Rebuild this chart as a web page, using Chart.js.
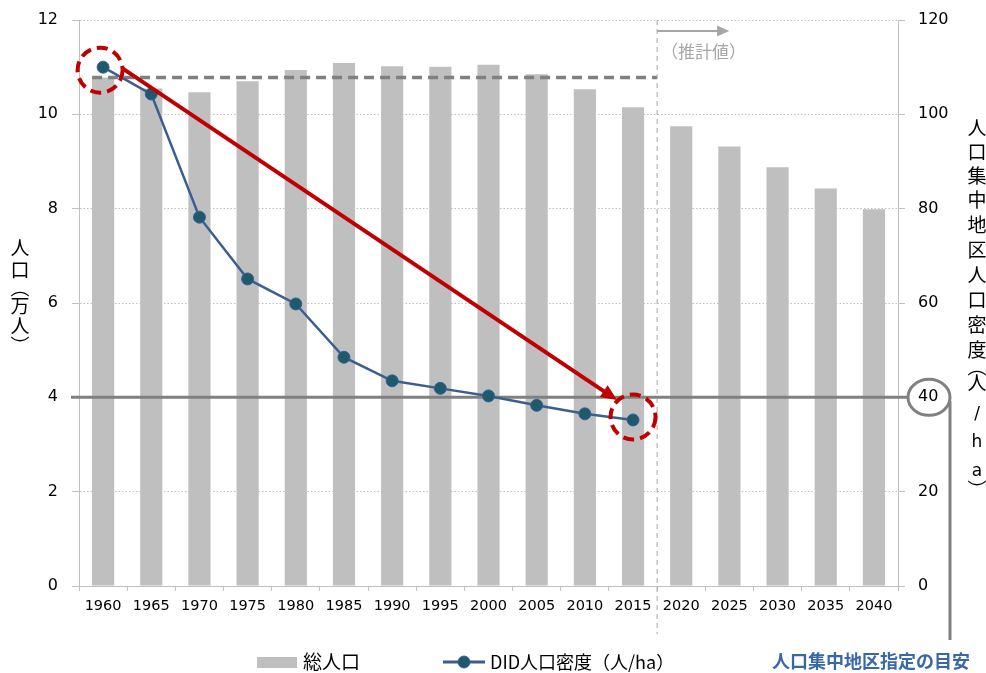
<!DOCTYPE html>
<html>
<head>
<meta charset="utf-8">
<script src="https://cdn.jsdelivr.net/npm/chart.js@4/dist/chart.umd.min.js"></script>
<style>
  html, body { margin: 0; padding: 0; background: #fff; }
  #wrap { width: 986px; height: 673px; }
</style>
</head>
<body>
<div id="wrap"><canvas id="didChart"></canvas></div>
<script>
const years = ['1960', '1965', '1970', '1975', '1980', '1985', '1990', '1995', '2000',
  '2005', '2010', '2015', '2020', '2025', '2030', '2035', '2040'];
// 総人口（万人）
const totalPop = [10.78, 10.55, 10.47, 10.70, 10.94, 11.09, 11.02, 11.01, 11.05,
  10.85, 10.53, 10.15, 9.75, 9.32, 8.88, 8.43, 7.99];
// DID人口密度（人/ha）、2020年以降はなし
const didDensity = [110.0, 104.3, 78.2, 65.1, 59.8, 48.5, 43.5, 41.9, 40.3,
  38.3, 36.5, 35.2, null, null, null, null, null];
const leftTicks = [0, 2, 4, 6, 8, 10, 12];
const rightTicks = [0, 20, 40, 60, 80, 100, 120];
const didGuide = 40;      // 人口集中地区指定の目安
const lastActual = 11;    // 2015 = 実績の最後

const JP = '"Noto Sans CJK JP", "Noto Sans", sans-serif';
const NUM = '"DejaVu Sans", Verdana, sans-serif';
const RED = '#c00000';

function arrowHead(ctx, x1, y1, x2, y2, len, wid) {
  const a = Math.atan2(y2 - y1, x2 - x1);
  ctx.save();
  ctx.translate(x2, y2);
  ctx.rotate(a);
  ctx.beginPath();
  ctx.moveTo(0, 0);
  ctx.lineTo(-len, -wid / 2);
  ctx.lineTo(-len, wid / 2);
  ctx.closePath();
  ctx.fill();
  ctx.restore();
}

function vText(ctx, chars, x, ys) {
  chars.forEach((c, i) => ctx.fillText(c, x, ys[i]));
}

const overlay = {
  id: 'overlay',
  afterDatasetDraw(chart, args) {
    if (args.index !== 0) return;
    const { ctx, scales: { x, y, y1 } } = chart;
    const gy = y1.getPixelForValue(didGuide);
    const xSplit = (x.getPixelForValue(lastActual) + x.getPixelForValue(lastActual + 1)) / 2;
    ctx.save();
    // 40人/ha の線
    ctx.strokeStyle = '#808080';
    ctx.lineWidth = 3;
    ctx.beginPath();
    ctx.moveTo(chart.chartArea.left - 8, gy);
    ctx.lineTo(908, gy);
    ctx.stroke();
    // 1960 総人口の水準（破線）
    const hy = y.getPixelForValue(totalPop[0]);
    ctx.setLineDash([10, 6]);
    ctx.lineWidth = 3.5;
    ctx.beginPath();
    ctx.moveTo(x.getPixelForValue(0) - 11, hy);
    ctx.lineTo(xSplit, hy);
    ctx.stroke();
    // 推計値の区切り
    ctx.setLineDash([5, 4]);
    ctx.lineWidth = 1;
    ctx.strokeStyle = '#a6a6a6';
    ctx.beginPath();
    ctx.moveTo(xSplit, chart.chartArea.top);
    ctx.lineTo(xSplit, 634);
    ctx.stroke();
    ctx.restore();
  },
  afterDraw(chart) {
    const { ctx, scales: { x, y1 } } = chart;
    const xSplit = (x.getPixelForValue(lastActual) + x.getPixelForValue(lastActual + 1)) / 2;
    const gy = y1.getPixelForValue(didGuide);
    ctx.save();

    // 推計値の矢印
    ctx.strokeStyle = '#a6a6a6';
    ctx.fillStyle = '#a6a6a6';
    ctx.lineWidth = 2;
    ctx.beginPath();
    ctx.moveTo(xSplit, 31);
    ctx.lineTo(xSplit + 62, 31);
    ctx.stroke();
    arrowHead(ctx, xSplit, 31, xSplit + 72, 31, 12, 11);
    ctx.font = '17px ' + JP;
    ctx.textAlign = 'left';
    ctx.textBaseline = 'middle';
    ctx.fillText('（推計値）', xSplit + 4, 52);

    // 40 の丸と縦線
    ctx.strokeStyle = '#808080';
    ctx.lineWidth = 3;
    ctx.beginPath();
    ctx.ellipse(929, gy, 21, 18, 0, 0, Math.PI * 2);
    ctx.stroke();
    ctx.beginPath();
    ctx.moveTo(950, gy + 4);
    ctx.lineTo(950, 640);
    ctx.stroke();

    // 赤い矢印と丸
    const p0 = chart.getDatasetMeta(1).data[0];
    const p1 = chart.getDatasetMeta(1).data[lastActual];
    const sx = p0.x + 19, sy = p0.y + 1;
    const ex = p1.x - 16, ey = p1.y - 20;
    ctx.strokeStyle = RED;
    ctx.fillStyle = RED;
    ctx.lineWidth = 4;
    const ang = Math.atan2(ey - sy, ex - sx);
    ctx.beginPath();
    ctx.moveTo(sx, sy);
    ctx.lineTo(ex - Math.cos(ang) * 12, ey - Math.sin(ang) * 12);
    ctx.stroke();
    arrowHead(ctx, sx, sy, ex, ey, 16, 14);
    ctx.setLineDash([11, 6]);
    ctx.lineWidth = 4;
    [[p0.x - 3, p0.y + 3], [p1.x, p1.y - 3]].forEach(([cx, cy]) => {
      ctx.beginPath();
      ctx.arc(cx, cy, 22.5, 0, Math.PI * 2);
      ctx.stroke();
    });
    ctx.setLineDash([]);

    // 軸タイトル（縦書き）
    ctx.fillStyle = '#000';
    ctx.textAlign = 'center';
    ctx.textBaseline = 'middle';
    ctx.font = '19px ' + JP;
    vText(ctx, ['人', '口', '︵', '万', '人', '︶'], 20, [248, 270, 288, 306, 326, 346]);
    vText(ctx, ['人', '口', '集', '中', '地', '区', '人', '口', '密', '度', '︵', '人'], 977,
      [128, 152, 176, 200, 225, 250, 275, 300, 325, 350, 367, 383]);
    ctx.font = '17px ' + NUM;
    vText(ctx, ['/', 'h', 'a'], 977, [415, 443, 472]);
    ctx.font = '19px ' + JP;
    vText(ctx, ['︶'], 977, [490]);

    // 凡例
    const ly = 662;
    ctx.fillStyle = '#bfbfbf';
    ctx.fillRect(257, ly - 5, 40, 11);
    ctx.fillStyle = '#000';
    ctx.textAlign = 'left';
    ctx.font = '19px ' + JP;
    ctx.fillText('総人口', 303, ly);
    ctx.strokeStyle = '#3a5f8f';
    ctx.lineWidth = 3;
    ctx.beginPath();
    ctx.moveTo(443, ly);
    ctx.lineTo(485, ly);
    ctx.stroke();
    ctx.fillStyle = '#1f5a6b';
    ctx.strokeStyle = '#36609a';
    ctx.lineWidth = 1;
    ctx.beginPath();
    ctx.arc(464, ly, 6, 0, Math.PI * 2);
    ctx.fill();
    ctx.stroke();
    ctx.fillStyle = '#000';
    ctx.font = '18px ' + JP;
    ctx.fillText('DID人口密度（人/ha）', 490, ly);
    ctx.fillStyle = '#3a68a6';
    ctx.font = 'bold 18px ' + JP;
    ctx.fillText('人口集中地区指定の目安', 772, ly - 1);
    ctx.restore();
  }
};

new Chart(document.getElementById('didChart'), {
  data: {
    labels: years,
    datasets: [{
      type: 'bar',
      label: '総人口',
      data: totalPop,
      yAxisID: 'y',
      backgroundColor: '#bfbfbf',
      barPercentage: 0.92,
      categoryPercentage: 0.5,
      order: 2
    }, {
      type: 'line',
      label: 'DID人口密度（人/ha）',
      data: didDensity,
      yAxisID: 'y1',
      borderColor: '#3a5f8f',
      borderWidth: 2.5,
      pointRadius: 6,
      pointBackgroundColor: '#1f5a6b',
      pointBorderColor: '#36609a',
      pointBorderWidth: 1,
      tension: 0,
      order: 1
    }]
  },
  options: {
    responsive: true,
    maintainAspectRatio: false,
    animation: false,
    layout: { padding: { top: 20, left: 0, right: 0, bottom: 0 } },
    plugins: {
      legend: { display: false },
      tooltip: { enabled: false }
    },
    scales: {
      x: {
        grid: { drawOnChartArea: false, drawTicks: true, tickLength: 5, color: '#bfbfbf', offset: true },
        border: { color: '#bfbfbf' },
        ticks: { color: '#000', font: { family: NUM, size: 14.5 }, padding: 7, maxRotation: 0, autoSkip: false },
        afterFit(scale) { scale.height = 87; }
      },
      y: {
        position: 'left',
        min: 0, max: 12,
        afterBuildTicks(scale) { scale.ticks = leftTicks.map(v => ({ value: v })); },
        grid: { color: '#bfbfbf', tickLength: 7, tickColor: '#bfbfbf', tickBorderDash: [] },
        border: { color: '#bfbfbf', dash: [1.5, 2] },
        ticks: { color: '#000', font: { family: NUM, size: 16 }, padding: 14 },
        afterFit(scale) { scale.width = 79; scale.paddingTop = 0; scale.paddingBottom = 0; }
      },
      y1: {
        position: 'right',
        min: 0, max: 120,
        afterBuildTicks(scale) { scale.ticks = rightTicks.map(v => ({ value: v })); },
        grid: { drawOnChartArea: false, tickLength: 7, color: '#bfbfbf' },
        border: { color: '#bfbfbf' },
        ticks: { color: '#000', font: { family: NUM, size: 16 }, padding: 13 },
        afterFit(scale) { scale.width = 88; scale.paddingTop = 0; scale.paddingBottom = 0; }
      }
    }
  },
  plugins: [overlay]
});
</script>
</body>
</html>
